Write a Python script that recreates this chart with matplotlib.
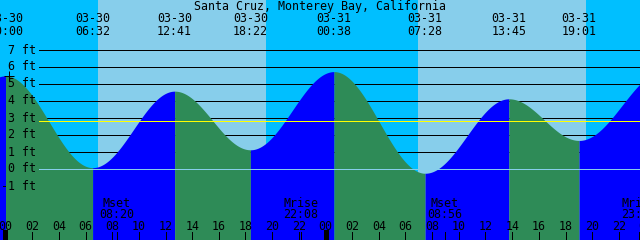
import numpy as np
import matplotlib
matplotlib.use("Agg")
import matplotlib.pyplot as plt
from matplotlib.transforms import blended_transform_factory

title = "Santa Cruz, Monterey Bay, California"

# Tide extremes (high / low) : date, clock time, height in ft
tide_dates = ["03-29", "03-30", "03-30", "03-30", "03-30", "03-31", "03-31", "03-31", "03-31", "04-01"]
tide_clock = ["17:42", "00:00", "06:32", "12:41", "18:22", "00:38", "07:28", "13:45", "19:01", "01:30"]
tide_heights = [1.0, 5.45, 0.05, 4.55, 1.1, 5.7, -0.28, 4.1, 1.65, 5.8]

# Sun
sunrise = ["03-30 06:58", "03-31 06:57"]
sunset = ["03-30 19:30", "03-31 19:30"]

# Moon events
moon_kind = ["Mset", "Mrise", "Mset", "Mrise"]
moon_time = ["03-30 08:20", "03-30 22:08", "03-31 08:56", "03-31 23:30"]

mean_level = 2.82
ft_levels = [7, 6, 5, 4, 3, 2, 1, 0, -1]

NIGHT = "#00BFFF"
DAY = "#87CEEB"
FALL = "#2E8B57"
RISE = "#0000FF"

day_offset = {"03-29": -24, "03-30": 0, "03-31": 24, "04-01": 48}


def hours(date, clock):
    hh, mm = clock.split(":")
    return day_offset[date] + int(hh) + int(mm) / 60.0


def hours_s(s):
    d, c = s.split()
    return hours(d, c)


W, H = 640, 240
PX_PER_H = 320 / 24.0
X0 = 5.5  # pixel of 03-30 00:00
Y0 = 168.5  # pixel of 0 ft
PX_PER_FT = 17.0

plt.rcParams["lines.antialiased"] = False
plt.rcParams["patch.antialiased"] = False

fig = plt.figure(figsize=(W / 100, H / 100), dpi=100)
ax = fig.add_axes([0, 0, 1, 1])
ax.set_axis_off()
xmin = -X0 / PX_PER_H
xmax = (W - X0) / PX_PER_H
ymax = Y0 / PX_PER_FT
ymin = -(H - Y0) / PX_PER_FT
ax.set_xlim(xmin, xmax)
ax.set_ylim(ymin, ymax)

# sky
ax.axvspan(xmin, xmax, color=NIGHT, zorder=0, lw=0)
for r, s in zip(sunrise, sunset):
    ax.axvspan(hours_s(r), hours_s(s), color=DAY, zorder=0.5, lw=0)

LW1 = 0.72  # one pixel

# ft grid lines (behind the water)
lx = 39 / W
for lv in ft_levels:
    if lv >= 1:
        ax.axhline(lv, xmin=lx, xmax=1, color="black", lw=LW1, zorder=1)

# tide curve
th = [hours(d, c) for d, c in zip(tide_dates, tide_clock)]
for i in range(len(th) - 1):
    t0, t1 = th[i], th[i + 1]
    h0, h1 = tide_heights[i], tide_heights[i + 1]
    t = np.linspace(t0, t1, 300)
    h = h0 + (h1 - h0) * (1 - np.cos(np.pi * (t - t0) / (t1 - t0))) / 2
    ax.fill_between(t, h, ymin, color=RISE if h1 > h0 else FALL, lw=0, zorder=2)

# zero line and mean level
ax.axhline(0, xmin=lx, xmax=1, color=DAY, lw=LW1, zorder=3)
ax.axhline(mean_level, xmin=lx, xmax=1, color="#FFFF00", lw=LW1, zorder=3)

# marker
ax.plot([0.3], [5.45], marker="+", color="black", ms=6.5, mew=LW1, zorder=4)

FS = 8.4
FONT = "DejaVu Sans Mono"


def fy(py):
    return 1 - py / H


def fx(px):
    return px / W


bt = blended_transform_factory(ax.transData, fig.transFigure)

fig.text(0.5, fy(10), title, ha="center", va="baseline", fontsize=FS, family=FONT)

# ft labels
for lv in ft_levels:
    py = Y0 - lv * PX_PER_FT
    fig.text(fx(36), fy(py + 4), f"{lv} ft", ha="right", va="baseline", fontsize=FS, family=FONT)

# tide event labels
for d, c, t in zip(tide_dates, tide_clock, th):
    if xmin - 1 <= t <= xmax + 1:
        ax.text(t, fy(21.7), d, transform=bt, ha="center", va="baseline", fontsize=FS, family=FONT, zorder=5)
        ax.text(t, fy(35), c, transform=bt, ha="center", va="baseline", fontsize=FS, family=FONT, zorder=5)

# moon labels and ticks
tick_bottom = 0
tick_top = 8 / H
for k, m in zip(moon_kind, moon_time):
    t = hours_s(m)
    ax.text(t, fy(207), k, transform=bt, ha="center", va="baseline", fontsize=FS, family=FONT, zorder=5)
    ax.text(t, fy(218), m.split()[1], transform=bt, ha="center", va="baseline", fontsize=FS, family=FONT, zorder=5)
    ax.plot([t, t], [tick_bottom, tick_top], transform=bt, color="black", lw=LW1, zorder=5)

# hour ticks
for hr in range(0, 50, 2):
    lw = 2.2 if hr % 24 == 0 else LW1
    ax.plot([hr, hr], [tick_bottom, tick_top], transform=bt, color="black", lw=lw, zorder=5)
    ax.text(hr, fy(230), f"{hr % 24:02d}", transform=bt, ha="center", va="baseline", fontsize=FS, family=FONT, zorder=5)

fig.savefig("out.png", dpi=100)
